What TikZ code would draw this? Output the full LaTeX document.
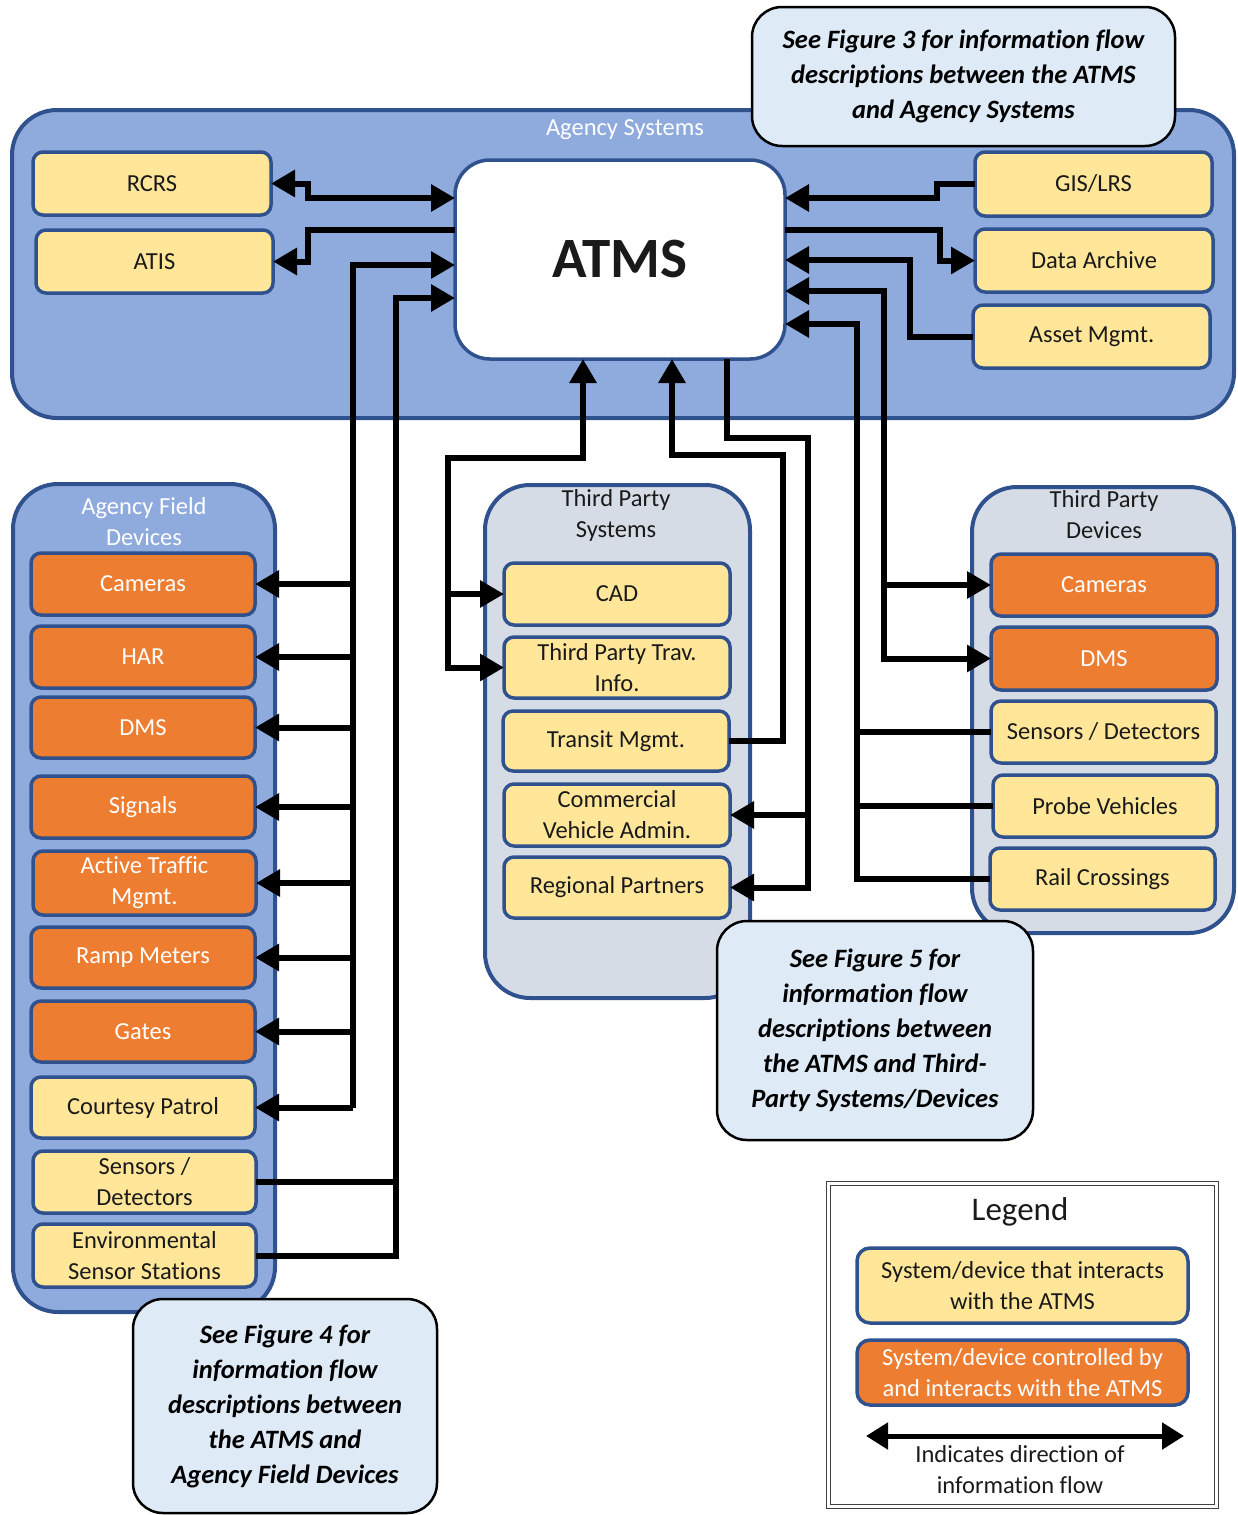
\documentclass[tikz,border=0pt]{standalone}
\usepackage{fontspec}
\setmainfont{Carlito}[Ligatures=NoCommon]
\usetikzlibrary{arrows.meta}
\definecolor{cblue}{HTML}{8FAADC}
\definecolor{bd}{HTML}{2F528F}
\definecolor{yel}{HTML}{FFE699}
\definecolor{org}{HTML}{ED7D31}
\definecolor{cgray}{HTML}{D6DCE5}
\definecolor{callc}{HTML}{DEEBF7}
\definecolor{txt}{HTML}{1A1A1A}
\newcommand\lblfont{\fontsize{24.5}{31}\selectfont}
\newcommand\calfont{\fontsize{26.5}{35}\selectfont\bfseries\itshape}
\newcommand\atmsfont{\fontsize{57}{60}\selectfont\bfseries}
\newcommand\bx[7]{\node[#6,minimum width={(#4)-(#2)},minimum height={(#5)-(#3)}] (#1) at ({((#2)+(#4))/2},{((#3)+(#5))/2}) {#7};}
\begin{document}
\begin{tikzpicture}[x=1pt,y=-1pt,
  cont/.style={draw=bd,line width=4pt,rounded corners=45pt,inner sep=0pt,outer sep=0pt},
  ybox/.style={draw=bd,fill=yel,line width=3.5pt,rounded corners=10pt,inner sep=0pt,outer sep=0pt,align=center,text=txt,font=\lblfont},
  obox/.style={ybox,fill=org,text=white},
  atmsbox/.style={draw=bd,fill=white,line width=3.5pt,rounded corners=35pt,inner sep=0pt,outer sep=0pt,font=\atmsfont,text=txt},
  callout/.style={draw=black,fill=callc,line width=2.5pt,rounded corners=30pt,inner sep=0pt,outer sep=0pt,align=center,font=\calfont,text=black},
  legbox/.style={draw=black!75,double,double distance=3pt,line width=1pt,inner sep=0pt,outer sep=0pt},
  clabel/.style={align=center,font=\lblfont,text=txt},
  conn/.style={line width=6pt,draw=black},
  fw/.style={conn,-{Triangle[length=24pt,width=26pt]}},
  bi/.style={conn,{Triangle[length=24pt,width=26pt]}-{Triangle[length=24pt,width=26pt]}}
]
\useasboundingbox (0,0) rectangle (1238,1515);
% containers
\bx{agsys}{12}{110}{1234}{418}{cont,fill=cblue}{}
\bx{afd}{13}{484}{275}{1312}{cont,fill=cblue}{}
\bx{tps}{485}{485}{750}{998}{cont,fill=cgray}{}
\bx{tpd}{972}{487}{1234}{933}{cont,fill=cgray}{}
\node[clabel,text=white] (agsysl) at (625,130) {Agency Systems};
\node[clabel,text=white] (afdl) at (144,522) {Agency Field\\Devices};
\node[clabel] (tpsl) at (616,515) {Third Party\\Systems};
\node[clabel] (tpdl) at (1104,515) {Third Party\\Devices};
% agency systems
\bx{rcrs}{33}{152}{271}{215}{ybox}{RCRS}
\bx{atis}{36}{230}{273}{293}{ybox}{ATIS}
\bx{atms}{455}{160}{785}{359}{atmsbox}{ATMS}
\bx{gis}{975}{152}{1212}{216}{ybox}{GIS/LRS}
\bx{da}{975}{229}{1213}{292}{ybox}{Data Archive}
\bx{am}{973}{305}{1210}{368}{ybox}{Asset Mgmt.}
% field devices
\bx{cam}{31}{553}{255}{615}{obox}{Cameras}
\bx{har}{31}{626}{255}{688}{obox}{HAR}
\bx{dms}{31}{697}{255}{758}{obox}{DMS}
\bx{sig}{31}{776}{255}{838}{obox}{Signals}
\bx{atm}{33}{851}{256}{915}{obox}{Active Traffic\\Mgmt.}
\bx{ramp}{31}{927}{255}{988}{obox}{Ramp Meters}
\bx{gates}{31}{1001}{255}{1062}{obox}{Gates}
\bx{cp}{31}{1077}{255}{1138}{ybox}{Courtesy Patrol}
\bx{sd}{33}{1151}{256}{1213}{ybox}{Sensors /\\Detectors}
\bx{ess}{33}{1224}{256}{1287}{ybox}{Environmental\\Sensor Stations}
% third party systems
\bx{cad}{504}{563}{730}{625}{ybox}{CAD}
\bx{tpti}{504}{637}{730}{698}{ybox}{Third Party Trav.\\Info.}
\bx{tm}{503}{711}{729}{771}{ybox}{Transit Mgmt.}
\bx{cva}{504}{784}{730}{846}{ybox}{Commercial\\Vehicle Admin.}
\bx{rp}{504}{857}{730}{918}{ybox}{Regional Partners}
% third party devices
\bx{tcam}{991}{554}{1217}{616}{obox}{Cameras}
\bx{tdms}{991}{627}{1217}{690}{obox}{DMS}
\bx{tsd}{991}{701}{1216}{763}{ybox}{Sensors / Detectors}
\bx{probe}{993}{775}{1217}{837}{ybox}{Probe Vehicles}
\bx{rail}{990}{848}{1215}{910}{ybox}{Rail Crossings}
% junction coordinates
\coordinate (jr) at (308,198);
\coordinate (ja) at (308,230);
\coordinate (vL) at (353,265);
\coordinate (vS) at (396,298);
\coordinate (jg) at (937,198);
\coordinate (jd) at (940,230);
\coordinate (jm) at (910,260);
\coordinate (vC) at (884,291);
\coordinate (vD) at (857,324);
\coordinate (b1) at (583,458);
\coordinate (b2) at (448,458);
\coordinate (b3) at (672,455);
\coordinate (b4) at (783,455);
\coordinate (b5) at (727,438);
\coordinate (b6) at (808,438);
% connectors: agency systems
\draw[bi] (rcrs.east) -| (jr) -- (jr -| atms.west);
\draw[fw] (atms.west |- ja) -- (ja) |- (atis.east);
\draw[fw] (gis.west) -| (jg) -- (jg -| atms.east);
\draw[fw] (atms.east |- jd) -- (jd) |- (da.west);
\draw[fw] (am.west) -| (jm) -- (jm -| atms.east);
% field devices
\draw[fw] (vL |- cp.east) -- (vL) -- (vL -| atms.west);
\foreach \n in {cam,har,dms,sig,atm,ramp,gates,cp}{\draw[fw] (vL |- \n.east) -- (\n.east);}
\draw[fw] (ess.east) -| (vS) -- (vS -| atms.west);
\draw[conn] (sd.east) -- (vS |- sd.east);
% third party devices
\draw[bi] (atms.east |- vC) -- (vC) |- (tdms.west);
\draw[fw] (vC |- tcam.west) -- (tcam.west);
\draw[fw] (rail.west) -| (vD) -- (vD -| atms.east);
\draw[conn] (tsd.west) -- (vD |- tsd.west);
\draw[conn] (probe.west) -- (vD |- probe.west);
% third party systems
\draw[bi] (atms.south -| b1) -- (b1) -- (b2) |- (tpti.west);
\draw[fw] (b2 |- cad.west) -- (cad.west);
\draw[fw] (tm.east) -| (b4) -- (b3) -- (atms.south -| b3);
\draw[fw] (atms.south -| b5) -- (b5) -- (b6) |- (rp.east);
\draw[fw] (b6 |- cva.east) -- (cva.east);
% callouts
\bx{c3}{752}{7}{1175}{146}{callout}{See Figure 3 for information flow\\descriptions between the ATMS\\and Agency Systems}
\bx{c5}{717}{921}{1033}{1140}{callout}{See Figure 5 for\\information flow\\descriptions between\\the ATMS and Third-\\Party Systems/Devices}
\bx{c4}{133}{1299}{437}{1513}{callout}{See Figure 4 for\\information flow\\descriptions between\\the ATMS and\\Agency Field Devices}
% legend
\bx{leg}{828}{1183}{1216}{1506}{legbox}{}
\node[font=\fontsize{33}{36}\selectfont,text=txt] (legt) at (1020,1212) {Legend};
\bx{ly}{857}{1248}{1188}{1323}{ybox,rounded corners=13pt}{System/device that interacts\\with the ATMS}
\bx{lo}{857}{1340}{1188}{1405}{obox,rounded corners=13pt}{System/device controlled by\\and interacts with the ATMS}
\coordinate (la) at (866,1436);
\coordinate (lb) at (1184,1436);
\draw[conn,line width=5pt,{Triangle[length=22pt,width=26pt]}-{Triangle[length=22pt,width=26pt]}] (la) -- (lb);
\node[clabel] (legtxt) at (1020,1470) {Indicates direction of\\information flow};
\end{tikzpicture}
\end{document}
